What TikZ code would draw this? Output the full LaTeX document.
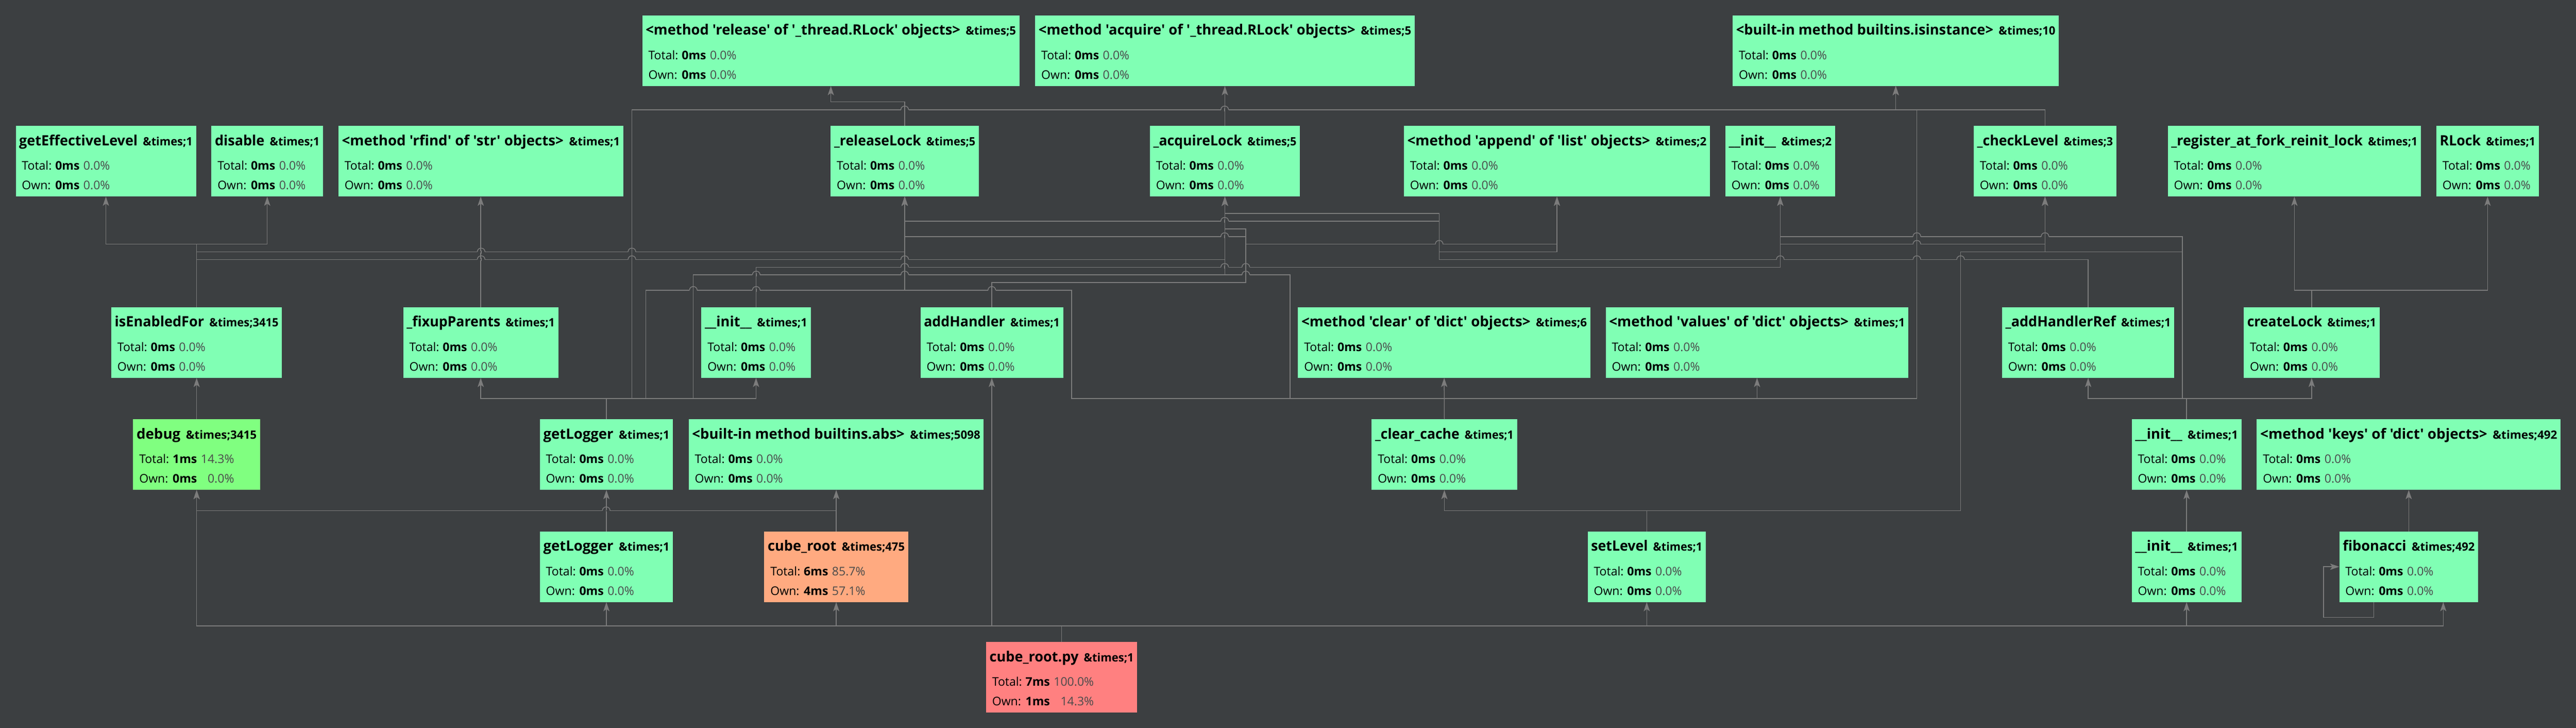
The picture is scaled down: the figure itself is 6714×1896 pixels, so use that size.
\documentclass[tikz,border=0pt]{standalone}
\usepackage{fontspec}
\setmainfont{Open Sans}[Ligatures=TeXOff]
\usepackage{graphicx}
\usetikzlibrary{arrows.meta}
\definecolor{bgc}{HTML}{3C3F41}
\definecolor{mint}{HTML}{80FFB4}
\definecolor{lgreen}{HTML}{80FF80}
\definecolor{peach}{HTML}{FFAA80}
\definecolor{salmon}{HTML}{FF8080}
\definecolor{edgec}{HTML}{7C7C7C}
\definecolor{pctc}{HTML}{4A4A4A}
\newlength\ttlw
\def\zs{{0ms}{0.0\%}{0ms}{0.0\%}}
\newcommand\statsrows[4]{\fontsize{8.8pt}{14.51pt}\selectfont
  \begin{tabular}[t]{@{}l@{}l@{\hspace{0.1cm}}r@{}}
  \makebox[0.87cm][l]{Total:} & \textbf{#1} & \textcolor{pctc}{#2}\\
  \makebox[0.87cm][l]{Own:} & \textbf{#3} & \textcolor{pctc}{#4}
  \end{tabular}}
\newcommand\fnode[8]{%
  \node[cgbox, fill=#5, minimum width={(#3-#2)*0.01cm}, anchor=north west] (#1) at (#2,#4) {};
  \pgfmathsetlength\ttlw{(#3-#2-18)*0.01cm}%
  \node[txt] (#1-t) at (#2+9,#4+51) {\resizebox{\ttlw}{\height}{\fontsize{10.5pt}{12pt}\selectfont\bfseries #6\hspace{0.14cm}\fontsize{8.5pt}{10pt}\selectfont #7}};
  \node[txt] (#1-s) at (#2+16,#4+115) {\expandafter\statsrows#8};
}
\newcommand\ed[3]{\draw[cline] (#1.north) -- (#1.north |- 0,#2) -| (#3.south);}
\newcommand\hop[2]{%
  \fill[bgc] (#1-10,#2-2.6) rectangle (#1+10,#2+2.6);
  \draw[hopline] (#1,#2-4) -- (#1,#2+4);
  \draw[hopline] (#1-10,#2) .. controls (#1-10,#2-13) and (#1+10,#2-13) .. (#1+10,#2);
}
\begin{document}
\begin{tikzpicture}[x=0.01cm, y=-0.01cm,
  cgbox/.style={rectangle, draw=none, inner sep=0pt, outer sep=0pt, minimum height=1.84cm},
  txt/.style={anchor=base west, inner sep=0pt, outer sep=0pt, text=black},
  cline/.style={draw=edgec, line width=0.57pt, -{Stealth[length=6.8pt,width=4.6pt,inset=1.6pt]}},
  hopline/.style={draw=edgec, line width=0.57pt}]
\useasboundingbox (0,0) rectangle (6714,1896);
\fill[bgc] (0,0) rectangle (6714,1896);

% row 1
\fnode{rel}{1674}{2657}{40}{mint}{<method 'release' of '\_thread.RLock' objects>}{\&times;5}{\zs}
\fnode{acq}{2698}{3687}{40}{mint}{<method 'acquire' of '\_thread.RLock' objects>}{\&times;5}{\zs}
\fnode{isi}{4516}{5366}{40}{mint}{<built-in method builtins.isinstance>}{\&times;10}{\zs}
% row 2
\fnode{gel}{41}{511}{328}{mint}{getEffectiveLevel}{\&times;1}{\zs}
\fnode{dis}{551}{842}{328}{mint}{disable}{\&times;1}{\zs}
\fnode{rfind}{882}{1625}{328}{mint}{<method 'rfind' of 'str' objects>}{\&times;1}{\zs}
\fnode{rlk}{2165}{2551}{328}{mint}{\_releaseLock}{\&times;5}{\zs}
\fnode{alk}{2997}{3388}{328}{mint}{\_acquireLock}{\&times;5}{\zs}
\fnode{app}{3659}{4457}{328}{mint}{<method 'append' of 'list' objects>}{\&times;2}{\zs}
\fnode{initA}{4497}{4783}{328}{mint}{\_\_init\_\_}{\&times;2}{\zs}
\fnode{chk}{5144}{5516}{328}{mint}{\_checkLevel}{\&times;3}{\zs}
\fnode{reg}{5650}{6310}{328}{mint}{\_register\_at\_fork\_reinit\_lock}{\&times;1}{\zs}
\fnode{rlock}{6350}{6617}{328}{mint}{RLock}{\&times;1}{\zs}
% row 3
\fnode{ief}{290}{735}{800}{mint}{isEnabledFor}{\&times;3415}{\zs}
\fnode{fix}{1051}{1455}{800}{mint}{\_fixupParents}{\&times;1}{\zs}
\fnode{initB}{1828}{2113}{800}{mint}{\_\_init\_\_}{\&times;1}{\zs}
\fnode{addh}{2399}{2771}{800}{mint}{addHandler}{\&times;1}{\zs}
\fnode{clr}{3383}{4145}{800}{mint}{<method 'clear' of 'dict' objects>}{\&times;6}{\zs}
\fnode{vals}{4185}{4974}{800}{mint}{<method 'values' of 'dict' objects>}{\&times;1}{\zs}
\fnode{ahr}{5218}{5667}{800}{mint}{\_addHandlerRef}{\&times;1}{\zs}
\fnode{clk}{5848}{6202}{800}{mint}{createLock}{\&times;1}{\zs}
% row 4
\fnode{dbg}{347}{678}{1092}{lgreen}{debug}{\&times;3415}{{1ms}{14.3\%}{0ms}{0.0\%}}
\fnode{glA}{1407}{1754}{1092}{mint}{getLogger}{\&times;1}{\zs}
\fnode{abs}{1795}{2564}{1092}{mint}{<built-in method builtins.abs>}{\&times;5098}{\zs}
\fnode{ccache}{3575}{3954}{1092}{mint}{\_clear\_cache}{\&times;1}{\zs}
\fnode{initC}{5556}{5842}{1092}{mint}{\_\_init\_\_}{\&times;1}{\zs}
\fnode{keys}{5882}{6674}{1092}{mint}{<method 'keys' of 'dict' objects>}{\&times;492}{\zs}
% row 5
\fnode{glB}{1407}{1754}{1384}{mint}{getLogger}{\&times;1}{\zs}
\fnode{croot}{1992}{2367}{1384}{peach}{cube\_root}{\&times;475}{{6ms}{85.7\%}{4ms}{57.1\%}}
\fnode{setl}{4138}{4446}{1384}{mint}{setLevel}{\&times;1}{\zs}
\fnode{initD}{5556}{5842}{1384}{mint}{\_\_init\_\_}{\&times;1}{\zs}
\fnode{fib}{6097}{6459}{1384}{mint}{fibonacci}{\&times;492}{\zs}
% row 6
\fnode{main}{2570}{2964}{1672}{salmon}{cube\_root.py}{\&times;1}{{7ms}{100.0\%}{1ms}{14.3\%}}

% ---- connectors ----
% from cube_root.py
\ed{main}{1630}{dbg}
\ed{main}{1630}{glB}
\ed{main}{1630}{croot}
\ed{main}{1630}{addh}
\ed{main}{1630}{setl}
\ed{main}{1630}{initD}
\draw[cline] (main.north) -- (main.north |- 0,1630) -| (fib.south -| 6368,0);
% fibonacci
\draw[cline] (fib.south -| 6187,0) -- (6187,1608) -- (6056,1608) |- (fib.west |- 0,1476);
\draw[cline] (fib.north) -- (keys.south);
% __init__ chain
\draw[cline] (initD.north) -- (initC.south);
\ed{initC}{1038}{ahr}
\ed{initC}{1038}{clk}
\draw[cline] (initC.north) -- (initC.north |- 0,1038) -| (5688,616) -| (initA.south);
\draw[cline] (initC.north) -- (initC.north |- 0,1038) -| (5688,656) -| (chk.south);
% createLock
\ed{clk}{756}{reg}
\ed{clk}{756}{rlock}
% _addHandlerRef
\draw[cline] (ahr.north) -- (ahr.north |- 0,676) -| (3751,556) -| (alk.south);
\draw[cline] (ahr.north) -- (ahr.north |- 0,676) -| (3751,576) -| (rlk.south);
\draw[cline] (ahr.north) -- (ahr.north |- 0,676) -| (3751,656) -| (app.south);
% setLevel
\ed{setl}{1330}{ccache}
\draw[cline] (setl.north) -- (setl.north |- 0,1330) -| (5110,656) -| (chk.south);
% _clear_cache
\draw[cline] (ccache.north) -- (clr.south);
\ed{ccache}{1038}{vals}
\draw[cline] (ccache.north) -- (ccache.north |- 0,1038) -| (2793,756) -| (rlk.south);
\draw[cline] (ccache.north) -- (ccache.north |- 0,1038) -| (3362,716) -| (alk.south);
\draw[cline] (ccache.north) -- (ccache.north |- 0,1038) -| (4996,286) -| (isi.south);
% _checkLevel
\ed{chk}{286}{isi}
% lock helpers
\ed{rlk}{265}{rel}
\draw[cline] (alk.north) -- (acq.south);
% addHandler
\draw[cline] (addh.north) -- (addh.north |- 0,736) -| (3247,596) -| (alk.south);
\draw[cline] (addh.north) -- (addh.north |- 0,736) -| (3247,616) -| (rlk.south);
\draw[cline] (addh.north) -- (addh.north |- 0,736) -| (3247,636) -| (app.south);
% Logger __init__
\ed{initB}{696}{initA}
\draw[cline] (initB.north) -- (initB.north |- 0,696) -| (4640,636) -| (chk.south);
% getLogger
\draw[cline] (glB.north) -- (glA.south);
\ed{glA}{1038}{fix}
\ed{glA}{1038}{initB}
\draw[cline] (glA.north) -- (glA.north |- 0,1038) -| (1647,286) -| (isi.south);
\draw[cline] (glA.north) -- (glA.north |- 0,1038) -| (1683,756) -| (rlk.south);
\draw[cline] (glA.north) -- (glA.north |- 0,1038) -| (1807,716) -| (alk.south);
\draw[cline] (fix.north) -- (fix.north |- rfind.south);
% cube_root
\ed{croot}{1330}{dbg}
\draw[cline] (croot.north) -- (croot.north |- abs.south);
% debug / isEnabledFor
\draw[cline] (dbg.north) -- (dbg.north |- ief.south);
\ed{ief}{636}{gel}
\ed{ief}{636}{dis}
\ed{ief}{656}{rlk}
\ed{ief}{676}{alk}

% ---- line hops ----
\hop{2358}{286}\hop{3192}{286}
\hop{1254}{656}\hop{1647}{656}
\hop{1254}{676}\hop{1647}{676}\hop{2358}{676}
\hop{1807}{756}\hop{1971}{756}\hop{2585}{756}
\hop{1971}{716}\hop{2358}{716}\hop{3247}{716}
\hop{2358}{696}\hop{3192}{696}\hop{3247}{696}
\hop{4996}{636}\hop{3192}{616}\hop{3751}{636}\hop{3192}{576}
\hop{4640}{676}\hop{4996}{676}\hop{5110}{676}
\hop{4996}{616}\hop{5330}{616}
\hop{1580}{1330}
\end{tikzpicture}
\end{document}
